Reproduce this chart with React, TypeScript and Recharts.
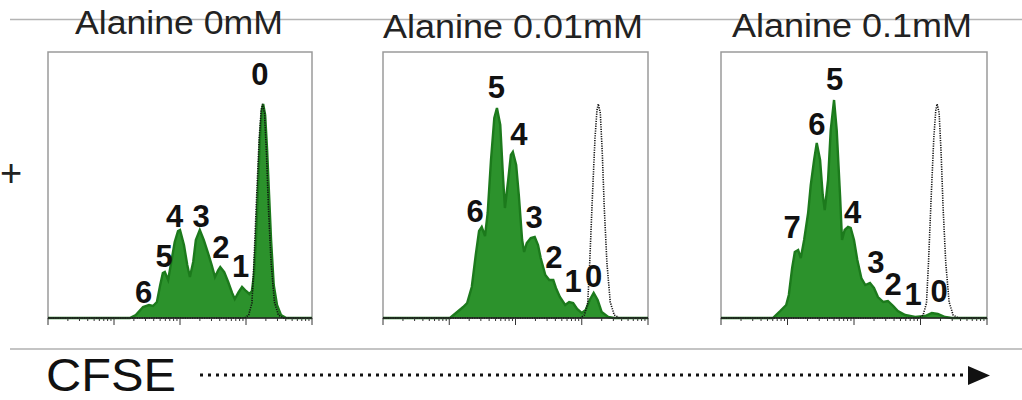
import React from "react";
import { ComposedChart, Area, Line, XAxis, YAxis, ReferenceArea, ReferenceDot } from "recharts";

// x = log10 CFSE decade (0..4), y = cell count
const titles = ["Alanine 0mM", "Alanine 0.01mM", "Alanine 0.1mM"];

const ala0: [number, number][] = [
  [0, 0], [1.24, 0], [1.33, 3], [1.44, 11], [1.53, 13], [1.59, 12], [1.65, 16], [1.7, 33], [1.74, 45],
  [1.77, 46], [1.82, 38], [1.86, 53], [1.92, 76], [1.97, 87], [2.0, 88], [2.06, 73], [2.11, 53],
  [2.15, 41], [2.2, 56], [2.24, 78], [2.3, 88], [2.36, 78], [2.42, 66], [2.48, 53], [2.53, 41],
  [2.58, 48], [2.61, 51], [2.67, 46], [2.73, 36], [2.79, 25], [2.83, 19], [2.89, 26], [2.94, 31],
  [3.0, 27], [3.05, 24], [3.09, 27], [3.12, 43], [3.15, 78], [3.18, 128], [3.21, 178], [3.24, 208],
  [3.26, 214], [3.29, 203], [3.32, 168], [3.35, 123], [3.38, 78], [3.42, 33], [3.47, 13], [3.53, 3],
  [3.61, 0], [4, 0],
];

const ala001: [number, number][] = [
  [0, 0], [1.01, 0], [1.12, 6], [1.21, 11], [1.27, 15], [1.34, 31], [1.4, 63], [1.45, 87], [1.49, 91],
  [1.54, 82], [1.58, 105], [1.63, 158], [1.68, 200], [1.72, 210], [1.77, 193], [1.81, 143], [1.84, 110],
  [1.89, 138], [1.93, 163], [1.96, 166], [2.01, 153], [2.05, 123], [2.1, 78], [2.13, 66], [2.17, 75],
  [2.23, 80], [2.29, 81], [2.34, 73], [2.38, 60], [2.45, 43], [2.51, 38], [2.57, 38], [2.61, 30],
  [2.67, 21], [2.75, 13], [2.81, 16], [2.87, 15], [2.93, 9], [3.0, 5], [3.06, 8], [3.12, 18],
  [3.18, 25], [3.24, 18], [3.3, 6], [3.4, 1], [3.49, 0], [4, 0],
];

const ala01: [number, number][] = [
  [0, 0], [0.78, 0], [0.89, 7], [0.98, 13], [1.02, 23], [1.07, 50], [1.11, 66], [1.16, 68], [1.2, 60],
  [1.25, 78], [1.31, 105], [1.35, 133], [1.4, 158], [1.44, 175], [1.49, 158], [1.53, 123], [1.56, 108],
  [1.61, 138], [1.65, 188], [1.7, 218], [1.74, 188], [1.79, 123], [1.82, 78], [1.86, 88], [1.91, 91],
  [1.95, 90], [2.0, 78], [2.05, 58], [2.11, 40], [2.17, 33], [2.24, 35], [2.3, 30], [2.36, 21],
  [2.44, 16], [2.51, 17], [2.59, 12], [2.66, 7], [2.77, 3], [2.92, 1], [3.07, 2], [3.17, 5],
  [3.26, 4], [3.37, 1], [3.47, 0], [4, 0],
];

// undivided control (dotted)
const control: [number, number][] = [
  [0, 0], [2.98, 0], [3.04, 3], [3.09, 15], [3.12, 55], [3.16, 120], [3.2, 180], [3.23, 208],
  [3.25, 214], [3.28, 205], [3.31, 165], [3.34, 110], [3.38, 55], [3.43, 16], [3.49, 3], [3.57, 0], [4, 0],
];

// division number labels: [generation, x, y]
const labels0: [string, number, number][] = [
  ["0", 3.21, 233], ["6", 1.45, 15], ["5", 1.76, 51], ["4", 1.92, 91], ["3", 2.32, 91], ["2", 2.62, 60], ["1", 2.92, 41],
];
const labels001: [string, number, number][] = [
  ["5", 1.71, 220], ["4", 2.05, 173], ["6", 1.39, 96], ["3", 2.28, 90], ["2", 2.58, 50], ["1", 2.87, 26], ["0", 3.18, 31],
];
const labels01: [string, number, number][] = [
  ["5", 1.71, 228], ["6", 1.44, 183], ["7", 1.07, 80], ["4", 1.98, 95], ["3", 2.33, 45], ["2", 2.59, 23], ["1", 2.89, 13], ["0", 3.28, 16],
];

const series = [ala0, ala001, ala01];
const labelSets = [labels0, labels001, labels01];
const panelLeft = [48, 383, 721];
const panelWidth = [264, 265, 266];
const titleX = [179, 513, 852];
const titleY = [34, 38, 37];
const titleLen = [208, 260, 240];

// log decade ticks
const ticks: number[] = [];
for (let d = 0; d < 4; d++) {
  ticks.push(d);
  for (let k = 2; k < 10; k++) ticks.push(+(d + Math.log10(k)).toFixed(3));
}
ticks.push(4);

const toRows = (pts: [number, number][]) => pts.map(([x, y]) => ({ x, y }));

const LogTick = (props: any) => {
  const { x, y, payload } = props;
  const major = Number.isInteger(payload.value);
  return <line x1={x} y1={y} x2={x} y2={y + (major ? 7 : 3)} stroke="#333" strokeWidth={1} />;
};

function Panel({ i }: { i: number }) {
  const w = panelWidth[i] + 20;
  return (
    <div style={{ position: "absolute", left: panelLeft[i] - 10, top: 40 }}>
      <ComposedChart width={w} height={300} margin={{ top: 12, right: 10, bottom: 12, left: 10 }}>
        <XAxis
          type="number"
          dataKey="x"
          domain={[0, 4]}
          ticks={ticks}
          interval={0}
          tickSize={0}
          tickMargin={0}
          tick={<LogTick />}
          height={10}
          axisLine={{ stroke: "#222", strokeWidth: 1.5 }}
        />
        <YAxis type="number" domain={[0, 266]} hide />
        <ReferenceArea x1={0} x2={4} y1={0} y2={266} fill="none" stroke="#9a9a9a" strokeWidth={1.5} fillOpacity={0} />
        <Area
          data={toRows(series[i])}
          dataKey="y"
          type="linear"
          fill="#2c922c"
          fillOpacity={1}
          stroke="#1c7a1c"
          strokeWidth={2.4}
          isAnimationActive={false}
        />
        <Line
          data={toRows(control)}
          dataKey="y"
          type="linear"
          stroke="#111"
          strokeWidth={1.6}
          strokeDasharray="1.2 1.2"
          dot={false}
          isAnimationActive={false}
        />
        {labelSets[i].map(([g, x, y], j) => (
          <ReferenceDot
            key={j}
            x={x}
            y={y}
            r={0}
            shape={(p: any) => (
              <text x={p.cx} y={p.cy} textAnchor="middle" fontFamily="Liberation Sans, Arial, sans-serif" fontWeight="bold" fontSize={31} fill="#111">
                {g}
              </text>
            )}
          />
        ))}
      </ComposedChart>
    </div>
  );
}

export default function App() {
  return (
    <div style={{ position: "absolute", left: 0, top: 0, width: 1022, height: 400, background: "#fff", overflow: "hidden" }}>
      <svg width={1022} height={400} style={{ position: "absolute", left: 0, top: 0 }}>
        <line x1={10} y1={19.5} x2={1022} y2={19.5} stroke="#b4b4b4" strokeWidth={1.5} />
        <line x1={10} y1={349} x2={1022} y2={349} stroke="#c4c4c4" strokeWidth={2} />
        {titles.map((t, i) => (
          <text key={t} x={titleX[i]} y={titleY[i]} textAnchor="middle" fontFamily="Liberation Sans, Arial, sans-serif" fontSize={33} fill="#222" textLength={titleLen[i]} lengthAdjust="spacingAndGlyphs">
            {t}
          </text>
        ))}
        <text x={0} y={186} fontFamily="Liberation Sans, Arial, sans-serif" fontSize={38} fontWeight={300} fill="#222">+</text>
        <text x={46} y={391} fontFamily="Liberation Sans, Arial, sans-serif" fontSize={46} fill="#111" textLength={130} lengthAdjust="spacingAndGlyphs">CFSE</text>
        <line x1={200} y1={375} x2={968} y2={375} stroke="#111" strokeWidth={3} strokeDasharray="3 5" />
        <polygon points="968,366 990,375.5 968,385" fill="#111" />
      </svg>
      {titles.map((t, i) => (
        <Panel key={t} i={i} />
      ))}
    </div>
  );
}
